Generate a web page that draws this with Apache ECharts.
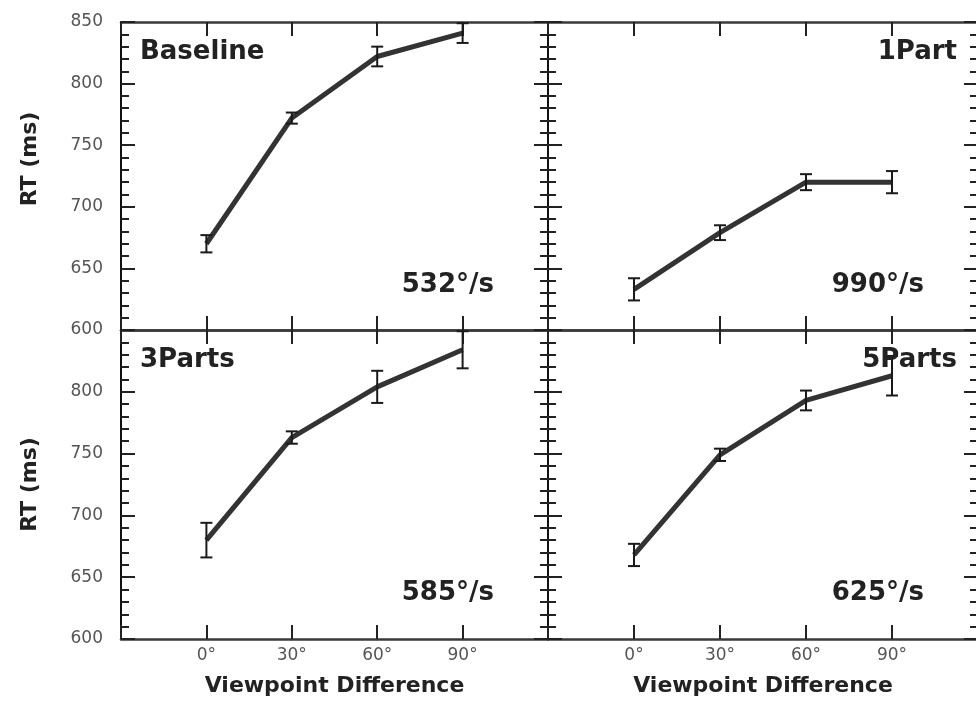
<!DOCTYPE html>
<html><head><meta charset="utf-8">
<script src="https://cdn.jsdelivr.net/npm/echarts@6/dist/echarts.min.js"></script>
<style>html,body{margin:0;padding:0;background:#fff}#c{width:976px;height:701px}</style>
</head><body><div id="c"></div>
<script>
// ---- data ----
const degrees = [0, 30, 60, 90];
const panelNames = ['Baseline', '1Part', '3Parts', '5Parts'];
const speeds = ['532°/s', '990°/s', '585°/s', '625°/s'];
const baselineRT = [670, 772, 822, 841];
const baselineErr = [7, 4.5, 8, 8];
const onePartRT = [633, 679, 720, 720];
const onePartErr = [9, 6, 6.5, 9];
const threePartsRT = [680, 763, 804, 834];
const threePartsErr = [14, 5, 13, 15];
const fivePartsRT = [668, 749, 793, 813];
const fivePartsErr = [9, 5, 8, 16];
const yAxisTitle = 'RT (ms)';
const xAxisTitle = 'Viewpoint Difference';

const rts = [baselineRT, onePartRT, threePartsRT, fivePartsRT];
const errs = [baselineErr, onePartErr, threePartsErr, fivePartsErr];

// ---- layout ----
const grids = [
  {left: 121, top: 22, width: 427, height: 308, outerBoundsMode: 'none'},
  {left: 548, top: 22, width: 430, height: 308, outerBoundsMode: 'none'},
  {left: 121, top: 330, width: 427, height: 309, outerBoundsMode: 'none'},
  {left: 548, top: 330, width: 430, height: 309, outerBoundsMode: 'none'}
];
const FONT = '"DejaVu Sans", Verdana, sans-serif';
const ink = '#222';

const xAxes = [], yAxes = [], series = [];
grids.forEach((g, i) => {
  const isBottom = i >= 2, isLeft = i % 2 === 0;
  ['bottom', 'top'].forEach(pos => {
    const main = pos === 'bottom';
    xAxes.push({
      gridIndex: i, type: 'value', position: pos, min: -30, max: 120, interval: 30,
      axisLine: {onZero: false, lineStyle: {color: '#3a3a3a', width: 2.5}},
      axisTick: {inside: true, length: 14, lineStyle: {color: ink, width: 2}},
      splitLine: {show: false},
      axisLabel: {
        show: main && isBottom, margin: 8,
        color: '#555', fontFamily: FONT, fontSize: 17,
        formatter: v => degrees.indexOf(v) >= 0 ? v + '°' : ''
      },
      name: main && isBottom ? xAxisTitle : '',
      nameLocation: 'middle', nameGap: 36,
      nameTextStyle: {fontFamily: FONT, fontWeight: 'bold', fontSize: 22, color: ink}
    });
  });
  ['left', 'right'].forEach(pos => {
    const main = pos === 'left';
    yAxes.push({
      gridIndex: i, type: 'value', position: pos, min: 600, max: 850, interval: 50,
      axisLine: {onZero: false, lineStyle: {color: '#111', width: 2}},
      axisTick: {inside: true, length: 14, lineStyle: {color: ink, width: 2}},
      minorTick: {show: true, splitNumber: 5, length: 8, lineStyle: {color: ink, width: 2}},
      splitLine: {show: false}, minorSplitLine: {show: false},
      axisLabel: {
        show: main && isLeft, margin: 18, showMaxLabel: !isBottom,
        color: '#555', fontFamily: FONT, fontSize: 17, padding: [0, 0, 8, 0]
      },
      name: main && isLeft ? yAxisTitle : '',
      nameLocation: 'middle', nameGap: 80, nameRotate: 90,
      nameTextStyle: {fontFamily: FONT, fontWeight: 'bold', fontSize: 22, color: ink,
        padding: isBottom ? 0 : [0, 0, 0, 34]}
    });
  });
  series.push({
    type: 'line', xAxisIndex: i * 2, yAxisIndex: i * 2,
    data: degrees.map((d, k) => [d, rts[i][k]]),
    showSymbol: false, symbol: 'none',
    lineStyle: {color: '#333', width: 5}, z: 2, animation: false
  });
  series.push({
    type: 'custom', xAxisIndex: i * 2, yAxisIndex: i * 2,
    data: degrees.map((d, k) => [d, rts[i][k] - errs[i][k], rts[i][k] + errs[i][k]]),
    encode: {x: 0, y: [1, 2]}, z: 3, animation: false,
    renderItem: (params, api) => {
      const x = api.value(0);
      const lo = api.coord([x, api.value(1)]);
      const hi = api.coord([x, api.value(2)]);
      const w = 6;
      const st = {stroke: '#1a1a1a', lineWidth: 2};
      return {type: 'group', children: [
        {type: 'line', shape: {x1: lo[0], y1: lo[1], x2: hi[0], y2: hi[1]}, style: st},
        {type: 'line', shape: {x1: lo[0] - w, y1: lo[1], x2: lo[0] + w, y2: lo[1]}, style: st},
        {type: 'line', shape: {x1: hi[0] - w, y1: hi[1], x2: hi[0] + w, y2: hi[1]}, style: st}
      ]};
    }
  });
});

// annotation text placement (panel name + speed)
const nameSpots = [[140, 52, 'left'], [957, 52, 'right'], [140, 360, 'left'], [957, 360, 'right']];
const speedSpots = [[494, 285, 'right'], [924, 285, 'right'], [494, 593, 'right'], [924, 593, 'right']];
const graphic = [];
panelNames.forEach((t, i) => {
  const s = nameSpots[i];
  graphic.push({type: 'text', x: s[0], y: s[1], z: 100,
    style: {text: t, font: 'bold 26px ' + FONT, fill: ink, align: s[2], verticalAlign: 'middle',
      textAlign: s[2], textVerticalAlign: 'middle'}});
});
speeds.forEach((t, i) => {
  const s = speedSpots[i];
  graphic.push({type: 'text', x: s[0], y: s[1], z: 100,
    style: {text: t, font: 'bold 26px ' + FONT, fill: ink, align: s[2], verticalAlign: 'middle',
      textAlign: s[2], textVerticalAlign: 'middle'}});
});

const chart = echarts.init(document.getElementById('c'), null, {renderer: 'canvas'});
chart.setOption({
  animation: false,
  backgroundColor: '#fff',
  grid: grids,
  xAxis: xAxes,
  yAxis: yAxes,
  series: series,
  graphic: graphic
});
</script>
</body></html>
